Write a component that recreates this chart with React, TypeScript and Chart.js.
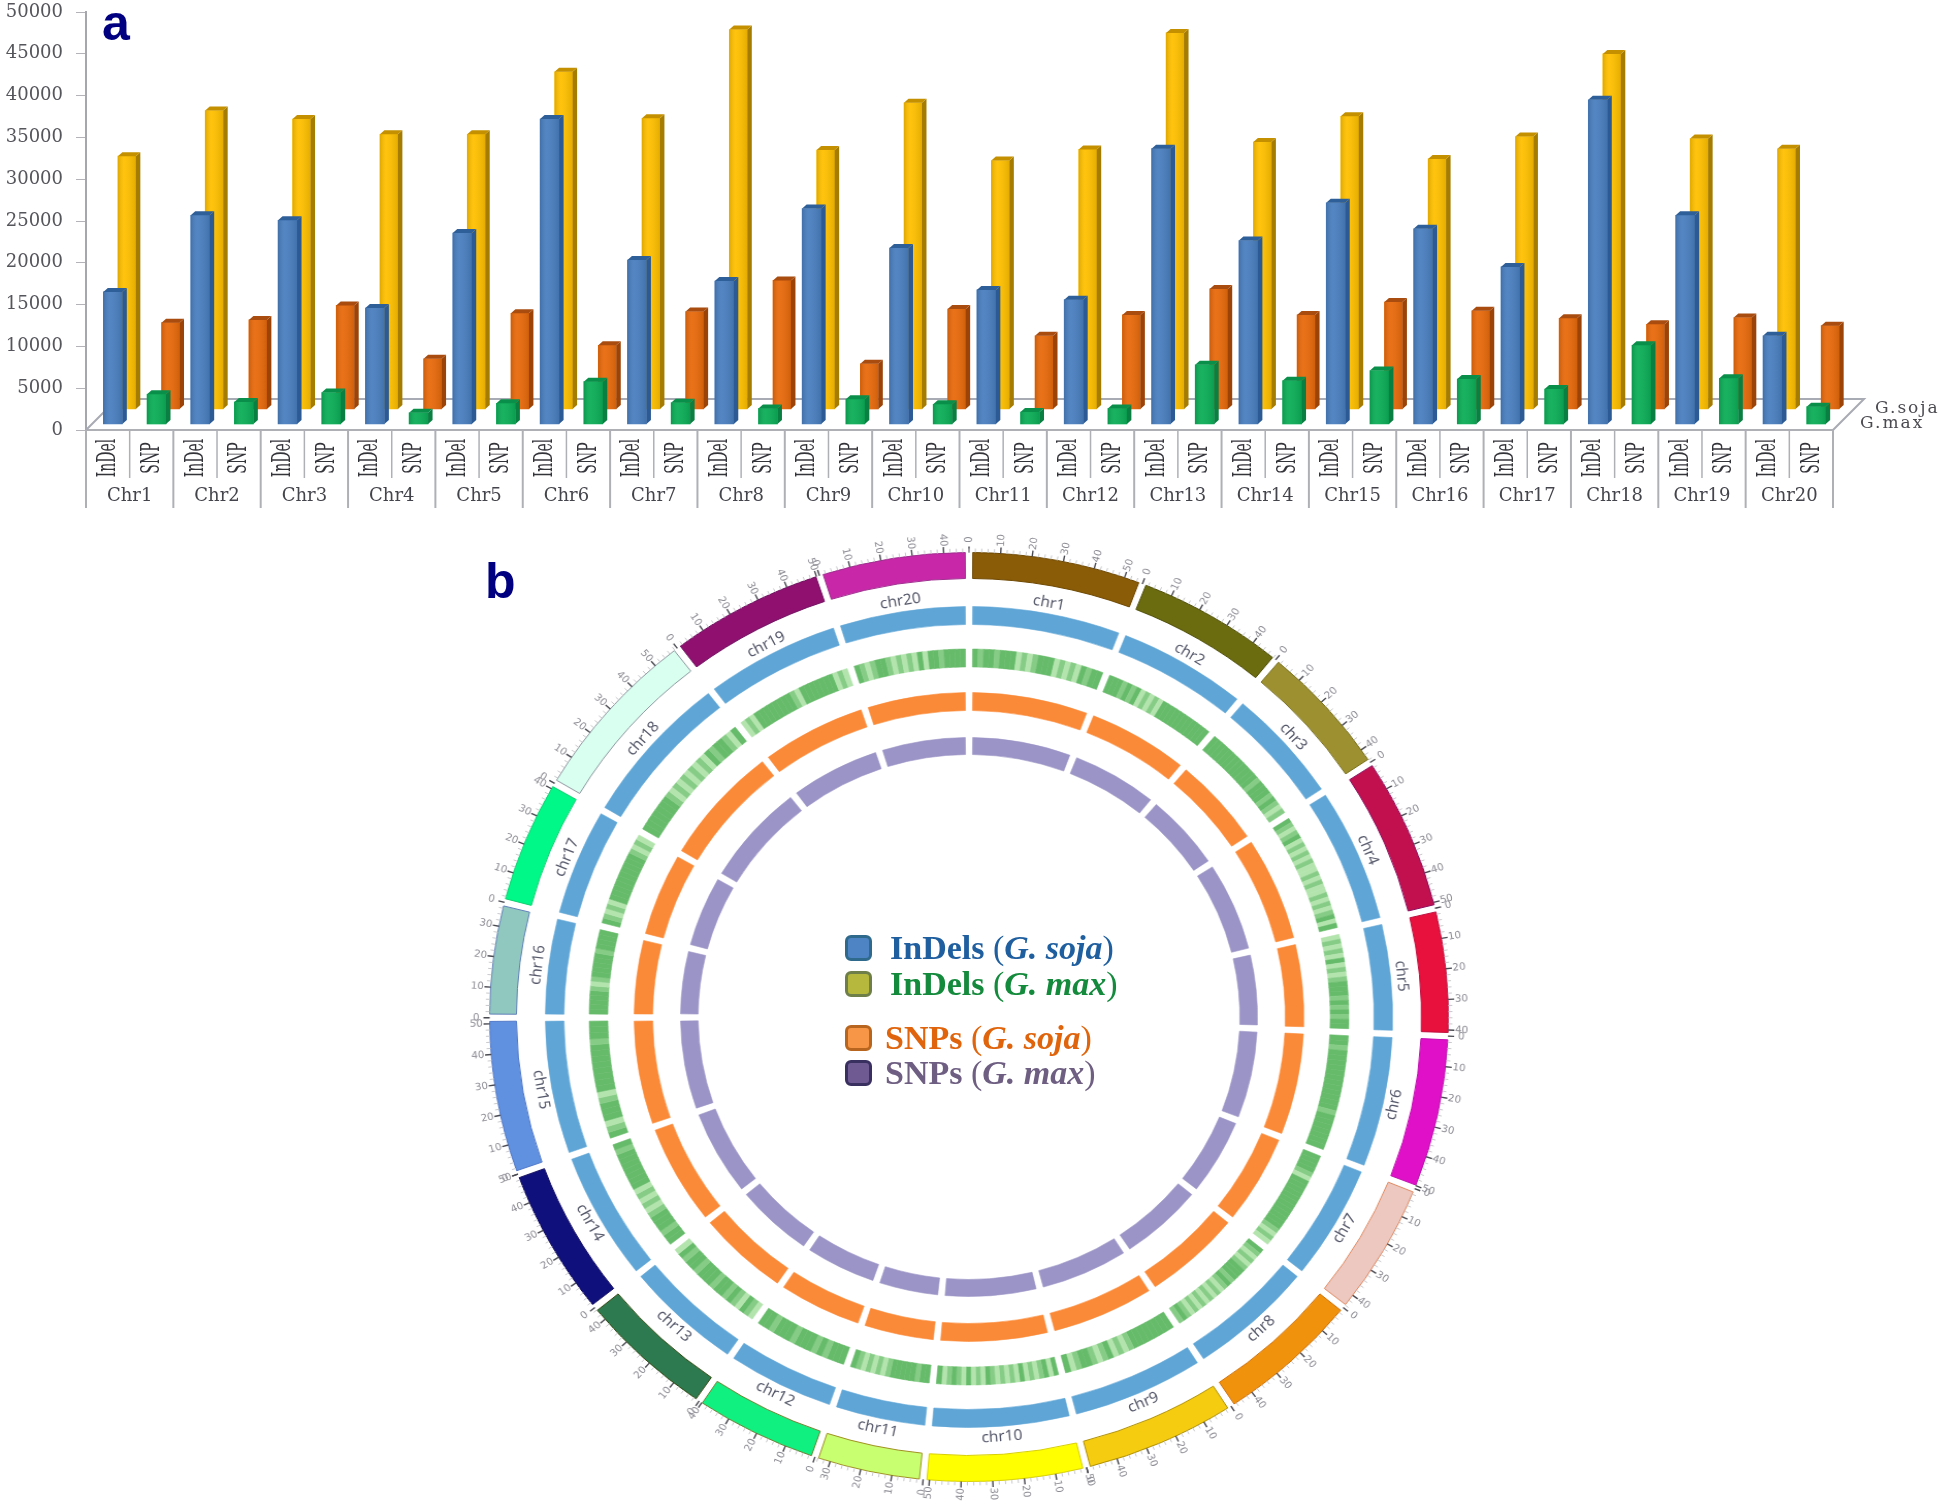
import React, { useEffect, useRef } from "react";
import { Chart, registerables } from "chart.js";

Chart.register(...registerables);

const chrNames = Array.from({ length: 20 }, (_, i) => `Chr${i + 1}`);
const subLabels = chrNames.flatMap(() => ["InDel", "SNP"]);
const yMax = 50000;
const yStep = 5000;

const indelGmax = [16520, 25690, 25080, 14580, 23550, 37200, 20320, 17810, 26500, 21770, 16760, 15590, 33650, 22660, 27180, 24070, 19510, 39500, 25690, 11270];
const snpGmax = [4280, 3350, 4480, 2060, 3190, 5780, 3270, 2580, 3680, 3070, 2140, 2580, 7800, 5900, 7110, 6100, 4890, 10140, 6180, 2790];
const indelGsoja = [32760, 38210, 37200, 35380, 35380, 42850, 37280, 47900, 33480, 39140, 32230, 33560, 47500, 34450, 37520, 32430, 35100, 44990, 34860, 33640];
const snpGsoja = [12840, 13170, 14900, 8520, 13970, 10140, 14180, 17890, 7920, 14460, 11270, 13770, 16880, 13770, 15310, 14260, 13370, 12640, 13450, 12480];

const circosNames = chrNames.map((_, i) => `chr${i + 1}`);
const chrLengthMb = [56, 49, 45, 52, 42, 51, 45, 48, 50, 52, 35, 41, 45, 50, 52, 38, 42, 59, 51, 48];
const chrColors = ["#8a5c08", "#6b6b10", "#9c9030", "#c2104f", "#e8103c", "#e010c8", "#ecc8c0", "#f0920c", "#f5cc10", "#ffff00", "#c8ff70", "#10f080", "#2e7a50", "#10107c", "#6090e0", "#90c8c0", "#00f888", "#d8fff0", "#901070", "#c828a8"];
const chrEdges = ["#6e4800", "#505008", "#7c7220", "#8c1060", "#c01040", "#c010b0", "#e08860", "#d07008", "#b09000", "#d8d000", "#a09020", "#708030", "#304810", "#100c60", "#5078c8", "#6080b8", "#10d070", "#9098a0", "#701060", "#a03090"];

// density of the G. max InDel track along each chromosome: g solid, m medium, l light
const gmaxInDelDensity = [
  "gmggmggglmlmggglmlmlgmgg",
  "gggmgmglmlmlggggggggggg",
  "ggggggggggggmgggmgmlm",
  "gmlmglmlmlmllmlmllmlmlmglg",
  "lmlmlglmlmgggmgmgmgg",
  "ggmggggggggggggmggggggg",
  "ggggmlggggggggggggmlml",
  "gmlmlmgggmgmlmlmlmlmlmgm",
  "ggggggggmlmlgmlmggmlg",
  "glgmlmlglmlmlmglmlglmgmlg",
  "ggmgggggmlmlmlmg",
  "gggmgmgggmgggmgg",
  "lmglmgmggmgggmggmgl",
  "ggmgggmlmlmlgggggggmg",
  "gmlgggmlggggggggmggg",
  "gggggmlmgggggmgggg",
  "gmlmlggggggggggmlml",
  "gggggggmlmlmlmlmlgmggmlg",
  "lmlggggggggmlggggggglml",
  "gmlmggmlmlmlglggmgggg",
];
const densityColors: Record<string, string> = { g: "#66bb6a", m: "#86cc86", l: "#b4e4ae" };

const legendRows = [
  { label: "InDels", species: "G. soja", color: "#1f5f9f", fill: "#4f84c4", edge: "#2f6a8c" },
  { label: "InDels", species: "G. max", color: "#148a3c", fill: "#b5b83c", edge: "#6f7f4a" },
  { label: "SNPs", species: "G. soja", color: "#e0640c", fill: "#f79646", edge: "#b8651f" },
  { label: "SNPs", species: "G. max", color: "#6e5f82", fill: "#6f5a92", edge: "#3a3060" },
];

const SERIF = '"DejaVu Serif", serif';
const CLEAR = "rgba(0,0,0,0)";

const everyOther = (vals: number[], first: boolean) =>
  vals.flatMap((v) => (first ? [v, null] : [null, v]));

const barFaces = {
  id: "barFaces",
  afterDatasetsUpdate(chart: any) {
    chart.data.datasets.forEach((ds: any, i: number) => {
      chart.getDatasetMeta(i).data.forEach((el: any) => {
        el.x += ds.xShift;
      });
    });
  },
  beforeDatasetsDraw(chart: any) {
    const { ctx, chartArea: a } = chart;
    const d = 31;
    ctx.save();
    ctx.strokeStyle = "#a8aab4";
    ctx.lineWidth = 2;
    ctx.beginPath();
    ctx.moveTo(a.left, a.bottom);
    ctx.lineTo(a.left + d, a.bottom - d);
    ctx.lineTo(a.right + d, a.bottom - d);
    ctx.lineTo(a.right, a.bottom);
    ctx.stroke();
    ctx.restore();
  },
  afterDatasetDraw(chart: any, args: any) {
    const { ctx } = chart;
    const ds = chart.data.datasets[args.index];
    const dx = 4.5;
    const dy = 4;
    args.meta.data.forEach((el: any, idx: number) => {
      if (ds.data[idx] == null) return;
      const w = el.width;
      const l = el.x - w / 2;
      const r = el.x + w / 2;
      const t = el.y;
      const b = el.base;
      const shade = ctx.createLinearGradient(l, 0, r, 0);
      shade.addColorStop(0, "rgba(0,0,0,0.13)");
      shade.addColorStop(0.35, "rgba(255,255,255,0.05)");
      shade.addColorStop(1, "rgba(0,0,0,0.10)");
      ctx.save();
      ctx.fillStyle = shade;
      ctx.fillRect(l, t, w, b - t);
      ctx.fillStyle = ds.sideColor;
      ctx.beginPath();
      ctx.moveTo(r, t);
      ctx.lineTo(r + dx, t - dy);
      ctx.lineTo(r + dx, b - dy);
      ctx.lineTo(r, b);
      ctx.closePath();
      ctx.fill();
      ctx.fillStyle = ds.capColor;
      ctx.beginPath();
      ctx.moveTo(l, t);
      ctx.lineTo(l + dx, t - dy);
      ctx.lineTo(r + dx, t - dy);
      ctx.lineTo(r, t);
      ctx.closePath();
      ctx.fill();
      ctx.restore();
    });
  },
  afterDraw(chart: any) {
    const { ctx, chartArea: a, scales } = chart;
    const step = (a.right - a.left) / subLabels.length;
    ctx.save();
    ctx.strokeStyle = "#aeb0b6";
    for (let i = 0; i <= subLabels.length; i++) {
      const x = a.left + i * step;
      ctx.lineWidth = i % 2 ? 1.5 : 2;
      ctx.beginPath();
      ctx.moveTo(x, a.bottom);
      ctx.lineTo(x, a.bottom + (i % 2 ? 48 : 78));
      ctx.stroke();
    }
    ctx.fillStyle = "#33333a";
    ctx.font = `14px ${SERIF}`;
    ctx.textAlign = "center";
    ctx.textBaseline = "middle";
    subLabels.forEach((label, i) => {
      ctx.save();
      ctx.translate(scales.x.getPixelForValue(i) + 1, a.bottom + 28);
      ctx.rotate(-Math.PI / 2);
      ctx.scale(1, 1.8);
      ctx.fillText(label, 0, 0);
      ctx.restore();
    });
    ctx.fillStyle = "#4a4a50";
    ctx.font = `17px ${SERIF}`;
    ctx.textAlign = "left";
    (ctx as any).letterSpacing = "2px";
    ctx.fillText("G.soja", a.right + 42, a.bottom - 21);
    ctx.fillText("G.max", a.right + 27, a.bottom - 6);
    ctx.restore();
  },
};

const ringLayout = {
  id: "ringLayout",
  afterDatasetsUpdate(chart: any) {
    chart.data.datasets.forEach((ds: any, i: number) => {
      chart.getDatasetMeta(i).data.forEach((arc: any) => {
        arc.outerRadius = ds.ringOuter;
        arc.innerRadius = ds.ringInner;
      });
    });
  },
  afterDatasetsDraw(chart: any) {
    const { ctx } = chart;
    const arcs = chart.getDatasetMeta(0).data;
    chrLengthMb.forEach((len, i) => {
      const first = arcs[i * 3];
      const last = arcs[i * 3 + 2];
      const start = first.startAngle;
      const span = last.endAngle - start;
      const rO = first.outerRadius;
      ctx.save();
      ctx.translate(first.x, first.y);
      for (let mb = 0; mb <= len; mb += 2) {
        const ang = start + (span * mb) / len;
        const major = mb % 10 === 0;
        ctx.strokeStyle = major ? "#4a4a52" : "#c8c8cc";
        ctx.lineWidth = major ? 1.4 : 1;
        ctx.beginPath();
        ctx.moveTo(Math.cos(ang) * rO, Math.sin(ang) * rO);
        const r2 = rO + (major ? 6 : 4);
        ctx.lineTo(Math.cos(ang) * r2, Math.sin(ang) * r2);
        ctx.stroke();
        if (major) {
          const rl = rO + 13;
          ctx.save();
          ctx.translate(Math.cos(ang) * rl, Math.sin(ang) * rl);
          const flip = Math.cos(ang) < 0;
          ctx.rotate(flip ? ang + Math.PI : ang);
          ctx.fillStyle = "#8c8c94";
          ctx.font = '10px "DejaVu Sans", sans-serif';
          ctx.textAlign = "center";
          ctx.textBaseline = "middle";
          ctx.fillText(String(mb), 0, 0);
          ctx.restore();
        }
      }
      const mid = start + span / 2;
      const rName = 421;
      ctx.translate(Math.cos(mid) * rName, Math.sin(mid) * rName);
      const upper = Math.sin(mid) < 0;
      const tangent = mid + Math.PI / 2;
      ctx.rotate(upper ? tangent : tangent - Math.PI);
      ctx.fillStyle = "#55586a";
      ctx.font = '15px "Noto Sans", sans-serif';
      ctx.textAlign = "center";
      ctx.textBaseline = "middle";
      ctx.fillText(circosNames[i], 0, 0);
      ctx.restore();
    });
  },
};

// One ring: for each chromosome a clear half gap, its block(s), a clear half gap.
function ringTrack(gapMb: number, blocks: (i: number) => string[], edges?: string[]) {
  const values: number[] = [];
  const fills: string[] = [];
  const lines: string[] = [];
  const widths: number[] = [];
  const gap = () => {
    values.push(gapMb / 2);
    fills.push(CLEAR);
    lines.push(CLEAR);
    widths.push(0);
  };
  chrLengthMb.forEach((len, i) => {
    const parts = blocks(i);
    const piece = (len - gapMb) / parts.length;
    gap();
    parts.forEach((c) => {
      values.push(piece);
      fills.push(c);
      lines.push(edges ? edges[i] : c);
      widths.push(edges ? 1 : 0.6);
    });
    gap();
  });
  return { data: values, backgroundColor: fills, borderColor: lines, borderWidth: widths };
}

export default function App() {
  const barRef = useRef<HTMLCanvasElement>(null);
  const ringRef = useRef<HTMLCanvasElement>(null);

  useEffect(() => {
    const front = { grouped: false, barThickness: 19, borderWidth: 0, base: 718, order: 0, xShift: 5, clip: false };
    const back = { grouped: false, barThickness: 18, borderWidth: 0, base: 2510, order: 1, xShift: 19, clip: false };
    const bars = new Chart(barRef.current!, {
      type: "bar",
      data: {
        labels: subLabels,
        datasets: [
          { ...front, label: "InDel G.max", data: everyOther(indelGmax, true), backgroundColor: "#4a7fc0", sideColor: "#2b5a94", capColor: "#2f5f98" },
          { ...front, label: "SNP G.max", data: everyOther(snpGmax, false), backgroundColor: "#0cae58", sideColor: "#0a7f42", capColor: "#0a8f4a" },
          { ...back, label: "InDel G.soja", data: everyOther(indelGsoja, true), backgroundColor: "#ffc000", sideColor: "#a67c00", capColor: "#c49000" },
          { ...back, label: "SNP G.soja", data: everyOther(snpGsoja, false), backgroundColor: "#e86a0c", sideColor: "#9c4408", capColor: "#a84c10" },
        ] as any,
      },
      options: {
        responsive: false,
        maintainAspectRatio: false,
        animation: false,
        devicePixelRatio: 1,
        layout: { padding: { top: 12, right: 113, left: 0, bottom: 0 } },
        plugins: { legend: { display: false }, tooltip: { enabled: false } },
        scales: {
          x: {
            type: "category",
            position: "bottom",
            weight: 0,
            offset: true,
            grid: { display: false, drawTicks: false },
            border: { color: "#aeb0b6", width: 2 },
            ticks: { display: false, autoSkip: false },
            afterFit: (s: any) => { s.height = 48; },
          },
          x2: {
            type: "category",
            position: "bottom",
            weight: 1,
            offset: true,
            labels: chrNames,
            grid: { display: false, drawTicks: false },
            border: { display: false },
            ticks: { autoSkip: false, maxRotation: 0, padding: 8, color: "#44444c", font: { family: "DejaVu Serif", size: 18 } },
            afterFit: (s: any) => { s.height = 48; },
          },
          y: {
            min: 0,
            max: yMax,
            grid: { drawOnChartArea: false, tickLength: 10, color: "#b4b4b8" },
            border: { color: "#a5a7ae", width: 2 },
            ticks: { stepSize: yStep, padding: 13, color: "#55555c", font: { family: "DejaVu Serif", size: 18 }, callback: (v: any) => String(v) },
            afterFit: (s: any) => { s.width = 86; s.paddingTop = 0; s.paddingBottom = 0; },
          },
        },
      } as any,
      plugins: [barFaces],
    });

    const rings = new Chart(ringRef.current!, {
      type: "doughnut",
      data: {
        labels: circosNames,
        datasets: [
          { label: "Chromosomes", ...ringTrack(2.4, (i) => [chrColors[i]], chrEdges), ringOuter: 464.5, ringInner: 438.5 },
          { label: "InDels (G. soja)", ...ringTrack(2.65, () => ["#5fa6d6"]), ringOuter: 410.5, ringInner: 392.5 },
          { label: "InDels (G. max)", ...ringTrack(2.9, (i) => [...gmaxInDelDensity[i]].map((c) => densityColors[c])), ringOuter: 368, ringInner: 350 },
          { label: "SNPs (G. soja)", ...ringTrack(3.4, () => ["#fb8a38"]), ringOuter: 324.5, ringInner: 306.5 },
          { label: "SNPs (G. max)", ...ringTrack(3.9, () => ["#9b94c6"]), ringOuter: 279.5, ringInner: 262.5 },
        ] as any,
      },
      options: {
        responsive: false,
        maintainAspectRatio: false,
        animation: false,
        devicePixelRatio: 1,
        plugins: { legend: { display: false }, tooltip: { enabled: false } },
      } as any,
      plugins: [ringLayout],
    });

    return () => {
      bars.destroy();
      rings.destroy();
    };
  }, []);

  const legendTops = [948, 984, 1038, 1073];
  const legendLefts = [890, 890, 885, 885];
  return (
    <div style={{ position: "absolute", left: 0, top: 0, width: 1946, height: 1506, background: "#fff", overflow: "hidden" }}>
      <canvas ref={barRef} width={1946} height={526} style={{ position: "absolute", left: 0, top: 0, width: 1946, height: 526 }} />
      <canvas
        ref={ringRef}
        width={1000}
        height={978}
        style={{ position: "absolute", left: 469, top: 528, width: 1000, height: 978, transform: "scaleX(1.032)", transformOrigin: "center" }}
      />
      <div style={{ position: "absolute", left: 102, top: -6, font: 'bold 50px "Liberation Sans", sans-serif', color: "#000080" }}>a</div>
      <div style={{ position: "absolute", left: 485, top: 552, font: 'bold 50px "Liberation Sans", sans-serif', color: "#000080" }}>b</div>
      {legendRows.map((row, i) => (
        <React.Fragment key={i}>
          <div
            style={{
              position: "absolute",
              left: 845,
              top: legendTops[i] - 13,
              width: 21,
              height: 20,
              border: `3px solid ${row.edge}`,
              borderRadius: 6,
              background: row.fill,
            }}
          />
          <div
            style={{
              position: "absolute",
              left: legendLefts[i],
              top: legendTops[i] - 20,
              height: 40,
              whiteSpace: "nowrap",
              font: '34px/40px "Liberation Serif", serif',
              color: row.color,
            }}
          >
            <b>{row.label}</b> (<b><i>{row.species}</i></b>)
          </div>
        </React.Fragment>
      ))}
    </div>
  );
}
